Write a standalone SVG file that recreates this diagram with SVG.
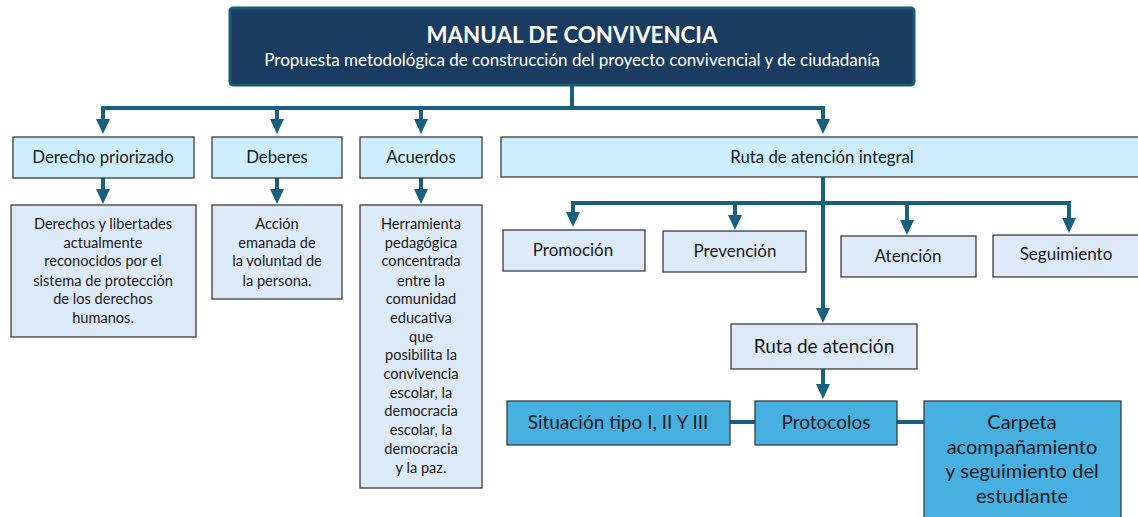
<svg xmlns="http://www.w3.org/2000/svg" width="1138" height="517" viewBox="0 0 1138 517">
<defs>
<style>
.t{font-family:Lato,"Liberation Sans",sans-serif;fill:#1a1a1a;text-anchor:middle}
.b1{fill:#ccedfb;stroke:#3c3c3c;stroke-width:1.3}
.b2{fill:#dce9f6;stroke:#3c3c3c;stroke-width:1.3}
.b3{fill:#46b0e1;stroke:#3c3c3c;stroke-width:1.3}
.c{fill:none;stroke:#17607f;stroke-width:4}
.a{fill:none;stroke:#17607f;stroke-width:4;marker-end:url(#ah)}
.s13{font-size:14.6px}
.s15{font-size:16.8px}
.s16{font-size:17px}
.s17{font-size:19px}
.s18{font-size:20px}
</style>
<marker id="ah" viewBox="0 0 15 14" refX="1" refY="7" markerWidth="15" markerHeight="14" markerUnits="userSpaceOnUse" orient="auto">
<path d="M0,0 L15,7 L0,14 Z" fill="#17607f"/>
</marker>
</defs>
<rect width="1138" height="517" fill="#ffffff"/>
<g id="connectors">
<path class="c" d="M572,85 V108"/>
<path class="a" d="M573,108 H103 V120"/>
<path class="a" d="M572,108 H823 V120"/>
<path class="a" d="M277,108 V120"/>
<path class="a" d="M421,108 V120"/>
<path class="a" d="M103,178 V190"/>
<path class="a" d="M277,178 V190"/>
<path class="a" d="M421,178 V190"/>
<path class="a" d="M823,177 V309"/>
<path class="a" d="M823,203 H573 V213"/>
<path class="a" d="M735,203 V216"/>
<path class="a" d="M823,203 H1069 V219"/>
<path class="a" d="M907,203 V221"/>
<path class="a" d="M823,369 V385"/>
<path class="c" d="M730,422 H755"/>
<path class="c" d="M897,422 H924"/>
</g>
<g id="title">
<rect x="230" y="8" width="684" height="77" rx="3" fill="#1b3c61" stroke="#175a74" stroke-width="3"/>
<text x="572" y="43" font-family="Lato,'Liberation Sans',sans-serif" font-size="22.3" font-weight="bold" fill="#ffffff" text-anchor="middle">MANUAL DE CONVIVENCIA</text>
<text x="572" y="66" font-family="Lato,'Liberation Sans',sans-serif" font-size="17" fill="#ffffff" text-anchor="middle">Propuesta metodológica de construcción del proyecto convivencial y de ciudadanía</text>
</g>
<g id="derecho-priorizado">
<rect class="b1" x="13" y="137" width="181" height="41"/>
<text class="t s15" x="103" y="163">Derecho priorizado</text>
</g>
<g id="deberes">
<rect class="b1" x="212" y="137" width="130" height="41"/>
<text class="t s15" x="277" y="163">Deberes</text>
</g>
<g id="acuerdos">
<rect class="b1" x="360" y="137" width="122" height="41"/>
<text class="t s15" x="421" y="163">Acuerdos</text>
</g>
<g id="ruta-integral">
<rect class="b1" x="501" y="137" width="640" height="40"/>
<text class="t s15" x="822" y="163">Ruta de atención integral</text>
</g>
<g id="derechos-desc">
<rect class="b2" x="11" y="205" width="185" height="132"/>
<text class="t s13"><tspan x="103" y="229">Derechos y libertades</tspan><tspan x="103" y="248">actualmente</tspan><tspan x="103" y="266">reconocidos por el</tspan><tspan x="103" y="286">sistema de protección</tspan><tspan x="103" y="304">de los derechos</tspan><tspan x="103" y="323">humanos.</tspan></text>
</g>
<g id="deberes-desc">
<rect class="b2" x="212" y="205" width="130" height="94"/>
<text class="t s13"><tspan x="277" y="229">Acción</tspan><tspan x="277" y="248">emanada de</tspan><tspan x="277" y="266">la voluntad de</tspan><tspan x="277" y="286">la persona.</tspan></text>
</g>
<g id="acuerdos-desc">
<rect class="b2" x="360" y="205" width="122" height="283"/>
<text class="t s13"><tspan x="421" y="229">Herramienta</tspan><tspan x="421" y="248">pedagógica</tspan><tspan x="421" y="266">concentrada</tspan><tspan x="421" y="286">entre la</tspan><tspan x="421" y="304">comunidad</tspan><tspan x="421" y="323">educativa</tspan><tspan x="421" y="342">que</tspan><tspan x="421" y="360">posibilita la</tspan><tspan x="421" y="379">convivencia</tspan><tspan x="421" y="398">escolar, la</tspan><tspan x="421" y="416">democracia</tspan><tspan x="421" y="435">escolar, la</tspan><tspan x="421" y="454">democracia</tspan><tspan x="421" y="473">y la paz.</tspan></text>
</g>
<g id="promocion">
<rect class="b2" x="503" y="230" width="142" height="41"/>
<text class="t s16" x="573" y="256">Promoción</text>
</g>
<g id="prevencion">
<rect class="b2" x="663" y="231" width="143" height="41"/>
<text class="t s16" x="735" y="257">Prevención</text>
</g>
<g id="atencion">
<rect class="b2" x="841" y="236" width="135" height="41"/>
<text class="t s16" x="908" y="262">Atención</text>
</g>
<g id="seguimiento">
<rect class="b2" x="993" y="235" width="148" height="42"/>
<text class="t s16" x="1066" y="260">Seguimiento</text>
</g>
<g id="ruta-atencion">
<rect class="b2" x="731" y="324" width="186" height="45"/>
<text class="t s17" x="824" y="353">Ruta de atención</text>
</g>
<g id="situacion">
<rect class="b3" x="507" y="401" width="223" height="44"/>
<text class="t s17" x="618" y="429">Situación tipo I, II Y III</text>
</g>
<g id="protocolos">
<rect class="b3" x="755" y="401" width="142" height="44"/>
<text class="t s17" x="826" y="429">Protocolos</text>
</g>
<g id="carpeta">
<rect class="b3" x="924" y="401" width="197" height="125"/>
<text class="t s18"><tspan x="1022" y="429">Carpeta</tspan><tspan x="1022" y="454">acompañamiento</tspan><tspan x="1022" y="478">y seguimiento del</tspan><tspan x="1022" y="503">estudiante</tspan></text>
</g>
</svg>
